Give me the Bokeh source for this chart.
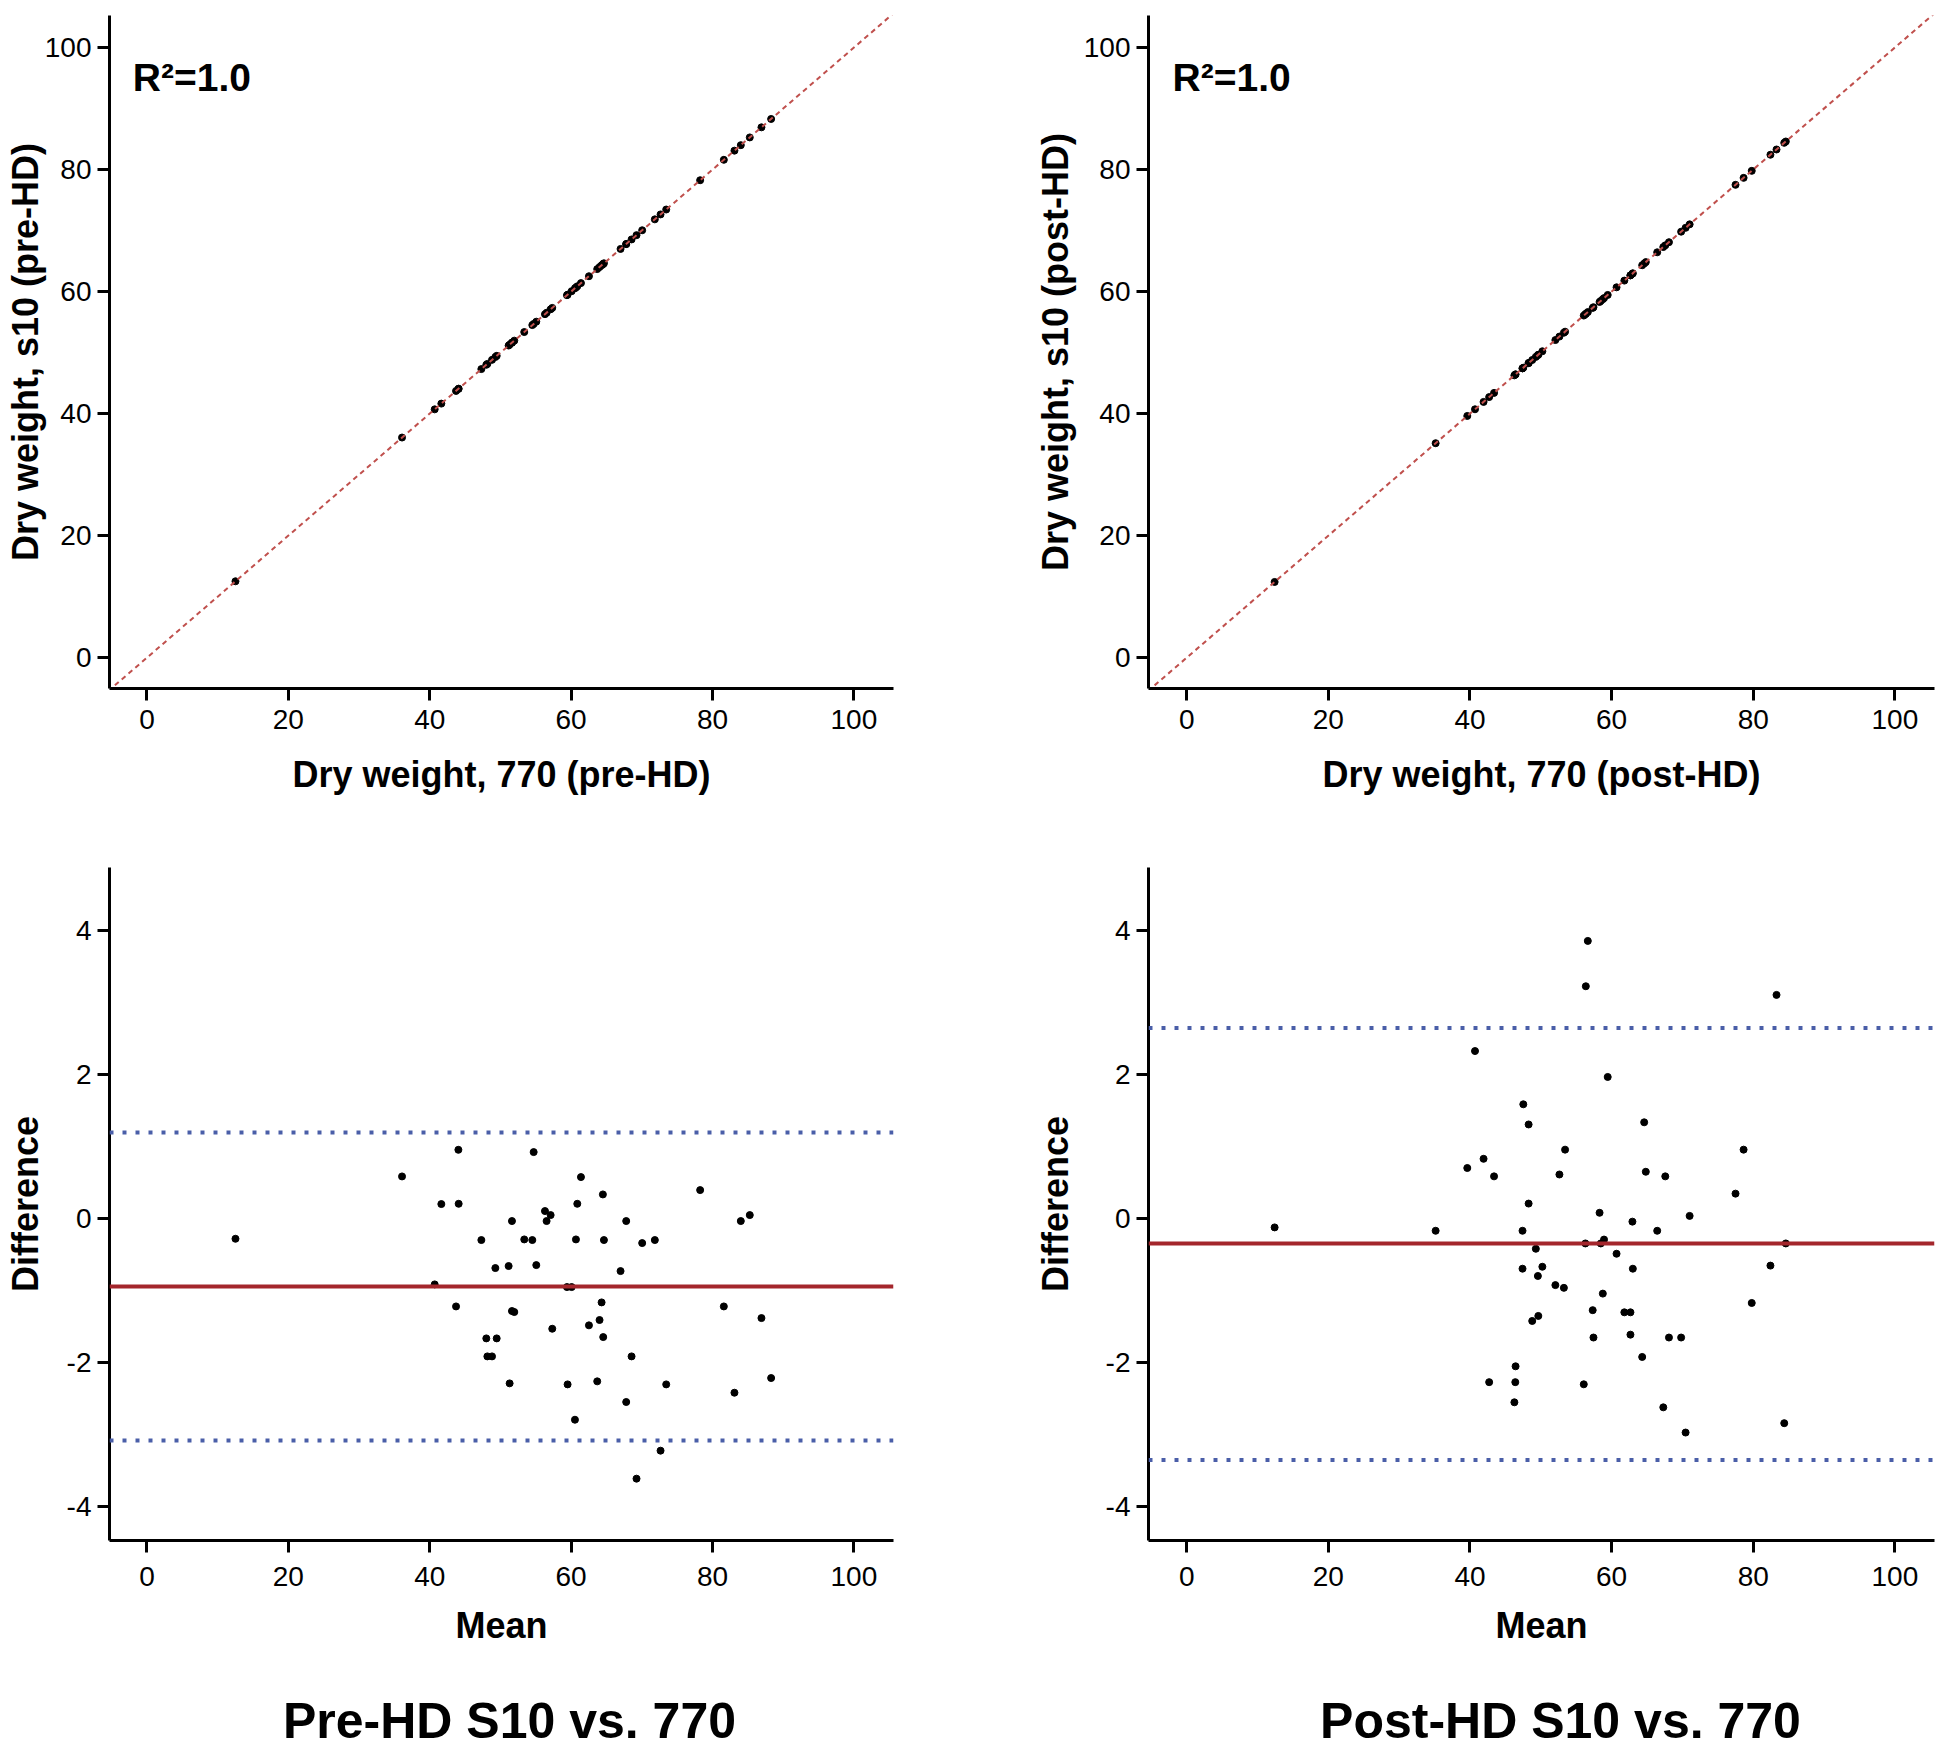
from bokeh.plotting import figure
from bokeh.layouts import column, row
from bokeh.models import Range1d, Span, Label, FixedTicker
from bokeh.embed import file_html
from bokeh.resources import INLINE

# ---------------- data ----------------
# Bland-Altman, pre-HD: mean of the two devices and difference
mean_pre = [44.05, 54.70, 36.08, 61.39, 64.49, 78.25, 41.64, 44.09, 60.87, 56.30,
            57.10, 56.53, 51.63, 67.79, 84.00, 85.27, 47.30, 53.37, 54.51, 60.68,
            64.64, 70.05, 71.84, 49.28, 51.16, 55.07, 66.99, 40.70, 59.41, 60.07,
            43.72, 64.31, 81.60, 51.63, 51.96, 86.92, 64.02, 62.52, 57.33, 64.54,
            48.00, 49.47, 48.15, 48.81, 68.55, 51.30, 59.50, 63.69, 73.45, 88.29,
            83.10, 67.79, 60.54, 72.65, 69.25, 12.52]
diff_pre = [0.958, 0.926, 0.588, 0.579, 0.338, 0.398, 0.204, 0.208, 0.208, 0.107,
            0.051, -0.032, -0.032, -0.032, -0.032, 0.051, -0.296, -0.287, -0.296, -0.287,
            -0.296, -0.338, -0.296, -0.685, -0.657, -0.644, -0.727, -0.912, -0.949, -0.949,
            -1.218, -1.162, -1.218, -1.282, -1.296, -1.380, -1.407, -1.481, -1.528, -1.644,
            -1.662, -1.662, -1.912, -1.912, -1.912, -2.287, -2.301, -2.259, -2.301, -2.213,
            -2.417, -2.546, -2.792, -3.222, -3.611, -0.278]
bias_pre = -0.94
loa_pre = [-3.08, 1.20]

# Bland-Altman, post-HD
mean_post = [56.64, 56.36, 83.29, 40.71, 59.45, 47.53, 48.28, 64.60, 53.43, 78.64,
             41.92, 39.62, 43.40, 52.63, 64.83, 67.58, 77.50, 48.28, 58.30, 71.02,
             62.94, 35.15, 47.42, 66.44, 56.30, 58.47, 58.93, 84.60, 49.30, 60.70,
             47.42, 50.22, 63.00, 82.43, 49.59, 52.06, 53.26, 58.76, 79.79, 57.33,
             61.80, 62.66, 49.65, 48.79, 57.44, 62.66, 68.10, 69.82, 64.32, 46.44,
             42.71, 46.40, 56.07, 46.27, 67.30, 84.38, 70.45, 12.41]
diff_post = [3.86, 3.23, 3.11, 2.33, 1.97, 1.59, 1.31, 1.34, 0.96, 0.96,
             0.833, 0.705, 0.589, 0.615, 0.653, 0.589, 0.349, 0.211, 0.083, 0.04,
             -0.04, -0.167, -0.167, -0.167, -0.343, -0.343, -0.289, -0.343, -0.417, -0.486,
             -0.694, -0.667, -0.694, -0.651, -0.795, -0.922, -0.96, -1.04, -1.17, -1.27,
             -1.30, -1.30, -1.35, -1.42, -1.65, -1.61, -1.65, -1.65, -1.92, -2.05,
             -2.27, -2.27, -2.30, -2.55, -2.62, -2.84, -2.97, -0.12]
bias_post = -0.343
loa_post = [-3.35, 2.65]

# Scatter (770 vs s10): points lie on the identity line in the picture,
# so the same read weights serve for both axes.
dw770_pre = mean_pre
s10_pre = mean_pre
dw770_post = mean_post
s10_post = mean_post

identity = [-5.5, 110]
x_ticks = [0, 20, 40, 60, 80, 100]
diff_ticks = [-4, -2, 0, 2, 4]

FONT = "Liberation Sans"
BLACK = "#000000"
RED_DASH = "#c0504d"
RED_LINE = "#a4262c"
BLUE_DOT = "#4a5ea8"


def style_axes(p, xlabel, ylabel, yticks, ylab_standoff, xlab_standoff, xtick_standoff):
    for ax in (p.xaxis[0], p.yaxis[0]):
        ax.axis_line_width = 3
        ax.axis_line_color = BLACK
        ax.major_tick_line_width = 3
        ax.major_tick_line_color = BLACK
        ax.major_tick_out = 12
        ax.major_tick_in = 0
        ax.minor_tick_line_color = None
        ax.major_label_text_font = FONT
        ax.major_label_text_font_size = "28px"
        ax.major_label_text_color = BLACK
        ax.axis_label_text_font = FONT
        ax.axis_label_text_font_size = "36px"
        ax.axis_label_text_font_style = "bold"
        ax.axis_label_text_color = BLACK
    p.xaxis[0].ticker = FixedTicker(ticks=x_ticks)
    p.yaxis[0].ticker = FixedTicker(ticks=yticks)
    p.xaxis[0].major_label_standoff = xtick_standoff
    p.yaxis[0].major_label_standoff = 6
    p.xaxis[0].axis_label = xlabel
    p.yaxis[0].axis_label = ylabel
    p.xaxis[0].axis_label_standoff = xlab_standoff
    p.yaxis[0].axis_label_standoff = ylab_standoff
    p.yaxis[0].major_label_overrides = {t: str(t) for t in yticks}
    p.xaxis[0].major_label_overrides = {t: str(t) for t in x_ticks}
    p.grid.visible = False
    p.outline_line_color = None


def make_fig(xr, yr, left, right, top, bottom, fw, fh):
    return figure(x_range=xr, y_range=yr, frame_width=fw, frame_height=fh,
                  min_border_left=left, min_border_right=right,
                  min_border_top=top, min_border_bottom=bottom,
                  output_backend="svg", toolbar_location=None)


def scatter_panel(xs, ys, xr, left, right, fw, xlabel, ylabel, ylab_standoff):
    p = make_fig(xr, Range1d(-5.05, 105.25), left, right, 15, 172, fw, 673)
    style_axes(p, xlabel, ylabel, x_ticks, ylab_standoff, 22, 9)
    p.scatter(xs, ys, size=7, color=BLACK)
    p.line(identity, identity, line_color=RED_DASH, line_width=2, line_dash="5 4")
    p.add_layout(Label(x=-2.0, y=95.1, text="R²=1.0", text_font=FONT,
                       text_font_size="39px", text_font_style="bold",
                       text_baseline="middle", text_color=BLACK))
    return p


def ba_panel(means, diffs, bias, loa, xr, left, right, fw, ylab_standoff):
    p = make_fig(xr, Range1d(-4.47, 4.88), left, right, 7, 130, fw, 673)
    style_axes(p, "Mean", "Difference", diff_ticks, ylab_standoff, 16, 14)
    for v in loa:
        p.add_layout(Span(location=v, dimension="width", line_color=BLUE_DOT,
                          line_width=4, line_dash="4 9"))
    p.add_layout(Span(location=bias, dimension="width", line_color=RED_LINE,
                      line_width=4))
    p.scatter(means, diffs, size=7, color=BLACK)
    return p


def title_panel(width, text, cx):
    p = figure(x_range=Range1d(0, width), y_range=Range1d(0, 78),
               frame_width=width, frame_height=78, min_border=0,
               x_axis_location=None, y_axis_location=None,
               output_backend="svg", toolbar_location=None)
    p.grid.visible = False
    p.outline_line_color = None
    p.add_layout(Label(x=cx, y=28, text=text, text_font=FONT,
                       text_font_size="50px", text_font_style="bold",
                       text_align="center", text_baseline="middle",
                       text_color=BLACK))
    return p


p1 = scatter_panel(dw770_pre, s10_pre, Range1d(-5.3, 105.6), 109, 137, 784,
                   "Dry weight, 770 (pre-HD)", "Dry weight, s10 (pre-HD)", -4)
p2 = scatter_panel(dw770_post, s10_post, Range1d(-5.4, 105.6), 118, 2, 786,
                   "Dry weight, 770 (post-HD)", "Dry weight, s10 (post-HD)", 5)
p3 = ba_panel(mean_pre, diff_pre, bias_pre, loa_pre, Range1d(-5.3, 105.6),
              109, 137, 784, 18)
p4 = ba_panel(mean_post, diff_post, bias_post, loa_post, Range1d(-5.4, 105.6),
              118, 2, 786, 27)
p5 = title_panel(1030, "Pre-HD S10 vs. 770", 509)
p6 = title_panel(906, "Post-HD S10 vs. 770", 530)

layout = column(row(p1, p2), row(p3, p4), row(p5, p6))
open("out.html", "w").write(file_html(layout, INLINE))
